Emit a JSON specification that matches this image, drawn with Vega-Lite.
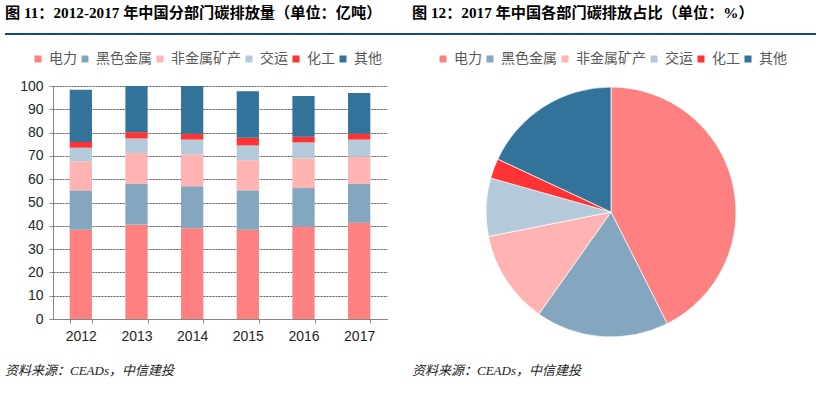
{
  "$schema": "https://vega.github.io/schema/vega-lite/v6.json",
  "background": "white",
  "padding": {"left": 5, "top": 5, "right": 0, "bottom": 5},
  "datasets": {
    "emissions": [
      {"year": "2012", "sector": "电力", "order": 1, "value": 38.3},
      {"year": "2012", "sector": "黑色金属", "order": 2, "value": 16.9},
      {"year": "2012", "sector": "非金属矿产", "order": 3, "value": 12.5},
      {"year": "2012", "sector": "交运", "order": 4, "value": 5.8},
      {"year": "2012", "sector": "化工", "order": 5, "value": 2.5},
      {"year": "2012", "sector": "其他", "order": 6, "value": 22.4},
      {"year": "2013", "sector": "电力", "order": 1, "value": 40.5},
      {"year": "2013", "sector": "黑色金属", "order": 2, "value": 17.5},
      {"year": "2013", "sector": "非金属矿产", "order": 3, "value": 13.3},
      {"year": "2013", "sector": "交运", "order": 4, "value": 6.2},
      {"year": "2013", "sector": "化工", "order": 5, "value": 2.7},
      {"year": "2013", "sector": "其他", "order": 6, "value": 19.8},
      {"year": "2014", "sector": "电力", "order": 1, "value": 39.0},
      {"year": "2014", "sector": "黑色金属", "order": 2, "value": 18.0},
      {"year": "2014", "sector": "非金属矿产", "order": 3, "value": 13.6},
      {"year": "2014", "sector": "交运", "order": 4, "value": 6.4},
      {"year": "2014", "sector": "化工", "order": 5, "value": 2.5},
      {"year": "2014", "sector": "其他", "order": 6, "value": 20.5},
      {"year": "2015", "sector": "电力", "order": 1, "value": 38.3},
      {"year": "2015", "sector": "黑色金属", "order": 2, "value": 16.9},
      {"year": "2015", "sector": "非金属矿产", "order": 3, "value": 12.9},
      {"year": "2015", "sector": "交运", "order": 4, "value": 6.4},
      {"year": "2015", "sector": "化工", "order": 5, "value": 3.3},
      {"year": "2015", "sector": "其他", "order": 6, "value": 19.9},
      {"year": "2016", "sector": "电力", "order": 1, "value": 39.7},
      {"year": "2016", "sector": "黑色金属", "order": 2, "value": 16.5},
      {"year": "2016", "sector": "非金属矿产", "order": 3, "value": 12.7},
      {"year": "2016", "sector": "交运", "order": 4, "value": 6.9},
      {"year": "2016", "sector": "化工", "order": 5, "value": 2.4},
      {"year": "2016", "sector": "其他", "order": 6, "value": 17.5},
      {"year": "2017", "sector": "电力", "order": 1, "value": 41.3},
      {"year": "2017", "sector": "黑色金属", "order": 2, "value": 16.7},
      {"year": "2017", "sector": "非金属矿产", "order": 3, "value": 11.7},
      {"year": "2017", "sector": "交运", "order": 4, "value": 7.3},
      {"year": "2017", "sector": "化工", "order": 5, "value": 2.5},
      {"year": "2017", "sector": "其他", "order": 6, "value": 17.5}
    ]
  },
  "spacing": 17,
  "resolve": {"scale": {"color": "independent"}},
  "vconcat": [
    {
      "spacing": 0,
      "hconcat": [
        {
          "width": 400, "height": 2,
          "view": {"fill": "#0E4C84", "stroke": null},
          "title": {"text": "图 11：2012-2017 年中国分部门碳排放量（单位：亿吨）", "anchor": "start", "frame": "group", "offset": 12, "font": "Liberation Serif, Noto Sans CJK SC", "fontSize": 15.2, "fontWeight": "bold", "color": "#000000"},
          "data": {"values": []},
          "mark": "rect",
          "encoding": {}
        },
        {
          "width": 411, "height": 2,
          "view": {"fill": "#0E4C84", "stroke": null},
          "title": {"text": "图 12：2017 年中国各部门碳排放占比（单位：%）", "anchor": "start", "frame": "group", "offset": 12, "dx": 7, "font": "Liberation Serif, Noto Sans CJK SC", "fontSize": 15.2, "fontWeight": "bold", "color": "#000000"},
          "data": {"values": []},
          "mark": "rect",
          "encoding": {}
        }
      ]
    },
    {
      "spacing": 0,
      "resolve": {"scale": {"color": "independent"}},
      "hconcat": [
        {
          "width": 1, "height": 1,
          "data": {"values": []},
          "mark": "rect",
          "encoding": {}
        },
        {
          "width": 334, "height": 233,
          "data": {"name": "emissions"},
          "mark": {"type": "bar"},
          "encoding": {
            "x": {
              "field": "year", "type": "ordinal", "title": null,
              "scale": {"paddingInner": 0.6, "paddingOuter": 0.3},
              "axis": {"labelAngle": 0, "tickBand": "extent", "tickSize": 4, "tickColor": "#868686", "domainColor": "#868686", "labelFont": "Liberation Sans", "labelFontSize": 14, "labelColor": "#262626", "labelPadding": 6, "grid": false}
            },
            "y": {
              "field": "value", "type": "quantitative", "title": null, "stack": "zero",
              "scale": {"domain": [0, 100], "nice": false},
              "axis": {"values": [0, 10, 20, 30, 40, 50, 60, 70, 80, 90, 100], "grid": true, "gridDash": [2, 1], "gridColor": "#595959", "tickSize": 4, "tickColor": "#868686", "domainColor": "#868686", "labelFont": "Liberation Sans", "labelFontSize": 14, "labelColor": "#262626", "labelPadding": 6, "minExtent": 47}
            },
            "color": {
              "field": "sector", "type": "nominal",
              "scale": {"domain": ["电力", "黑色金属", "非金属矿产", "交运", "化工", "其他"], "range": ["#FF8080", "#84A6BF", "#FFB3B3", "#B4CADB", "#FF3333", "#347399"]},
              "legend": {"orient": "none", "legendX": -22, "legendY": -34, "direction": "horizontal", "title": null, "symbolType": "square", "symbolSize": 49, "symbolStrokeWidth": 0, "labelFont": "Noto Sans CJK SC", "labelFontSize": 14, "labelColor": "#595959", "labelOffset": 4, "columnPadding": 1, "padding": 0}
            },
            "order": {"field": "order", "type": "quantitative"}
          }
        },
        {
          "width": 448, "height": 252,
          "data": {"name": "emissions"},
          "transform": [{"filter": "datum.year == '2017'"}],
          "mark": {"type": "arc", "outerRadius": 125, "stroke": "white", "strokeWidth": 0.7},
          "encoding": {
            "theta": {"field": "value", "type": "quantitative", "stack": true},
            "color": {
              "field": "sector", "type": "nominal",
              "scale": {"domain": ["电力", "黑色金属", "非金属矿产", "交运", "化工", "其他"], "range": ["#FF8080", "#84A6BF", "#FFB3B3", "#B4CADB", "#FF3333", "#347399"]},
              "legend": {"orient": "none", "legendX": 49, "legendY": -34, "direction": "horizontal", "title": null, "symbolType": "square", "symbolSize": 49, "symbolStrokeWidth": 0, "labelFont": "Noto Sans CJK SC", "labelFontSize": 14, "labelColor": "#595959", "labelOffset": 4, "columnPadding": 1, "padding": 0}
            },
            "order": {"field": "order", "type": "quantitative"}
          }
        }
      ]
    },
    {
      "spacing": 0,
      "hconcat": [
        {
          "width": 400, "height": 1,
          "title": {"text": "资料来源：CEADs，中信建投", "orient": "bottom", "anchor": "start", "frame": "group", "offset": 4, "font": "Liberation Serif, Noto Sans CJK SC", "fontStyle": "italic", "fontSize": 13, "fontWeight": "normal", "color": "#222222"},
          "data": {"values": []},
          "mark": "rect",
          "encoding": {}
        },
        {
          "width": 400, "height": 1,
          "title": {"text": "资料来源：CEADs，中信建投", "orient": "bottom", "anchor": "start", "frame": "group", "offset": 4, "dx": 7, "font": "Liberation Serif, Noto Sans CJK SC", "fontStyle": "italic", "fontSize": 13, "fontWeight": "normal", "color": "#222222"},
          "data": {"values": []},
          "mark": "rect",
          "encoding": {}
        }
      ]
    }
  ],
  "config": {
    "view": {"stroke": null},
    "axis": {"labelFont": "Liberation Sans"}
  }
}
